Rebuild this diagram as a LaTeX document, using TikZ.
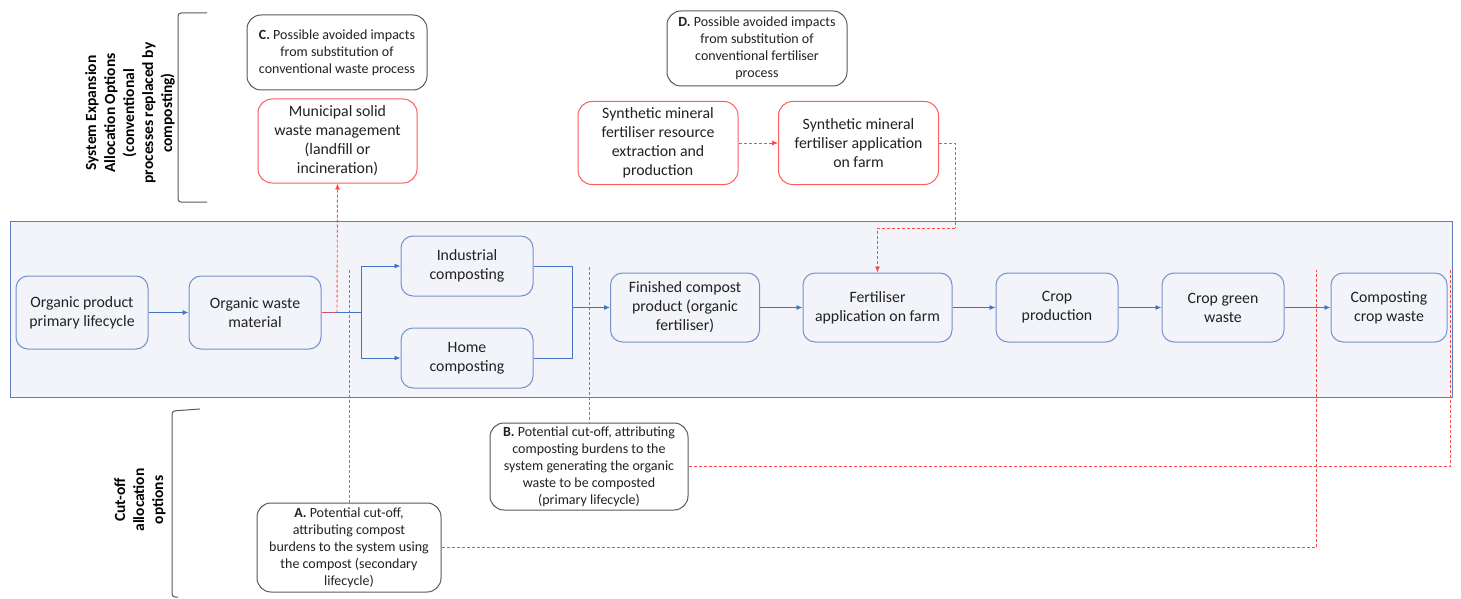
\documentclass[tikz,border=0pt]{standalone}
\usepackage{fontspec}
\setmainfont{Carlito}
\usetikzlibrary{arrows.meta}
\definecolor{flowblue}{HTML}{4472C4}
\definecolor{boxblue}{HTML}{7391CC}
\definecolor{bandfill}{HTML}{F2F4F9}
\definecolor{bandline}{HTML}{5E7DBE}
\definecolor{altred}{HTML}{FF5C5C}
\definecolor{cutred}{HTML}{FF4848}
\definecolor{notegrey}{HTML}{595959}
\definecolor{txt}{HTML}{222222}
\begin{document}
\begin{tikzpicture}[x=1pt,y=-1pt,
  bigtext/.style={font=\fontsize{15.8}{19}\selectfont, text=txt, align=center},
  smalltext/.style={font=\fontsize{14}{17}\selectfont, text=txt, align=center},
  process/.style={bigtext, draw=boxblue, line width=1pt, fill=bandfill, rounded corners=12pt, inner sep=2pt},
  altproc/.style={bigtext, draw=altred, line width=1pt, fill=white, rounded corners=14pt, inner sep=2pt},
  note/.style={smalltext, draw=notegrey, line width=1pt, fill=white, rounded corners=14pt, inner sep=2pt},
  flow/.style={draw=flowblue, line width=0.9pt},
  flowarrow/.style={flow, -{Latex[length=6pt,width=5pt]}},
  cut/.style={draw=cutred, line width=0.9pt, dash pattern=on 3pt off 2pt},
  cutarrow/.style={cut, -{Latex[length=6pt,width=5pt]}},
  bracketline/.style={draw=notegrey, line width=1pt, rounded corners=3pt},
  sidelabel/.style={font=\bfseries\fontsize{15.5}{19}\selectfont, text=black, align=center, rotate=90}
]
\useasboundingbox (0,0) rectangle (1461,599);

% background band holding the composting chain
\node[draw=bandline, line width=0.9pt, fill=bandfill, minimum width=1442pt, minimum height=176pt, inner sep=0pt] (band) at (731,309) {};

% side brackets and their labels
\draw[bracketline] (207,13) -- (178,13) -- (178,202) -- (207,202);
\node[sidelabel] (sysexp) at (130,113) {System Expansion\\Allocation Options\\(conventional\\processes replaced by\\composting)};
\draw[bracketline] (200,409) -- (172,411) -- (172,597) -- (178,597);
\node[sidelabel] (cutoff) at (140,500) {Cut-off\\allocation\\options};

% system expansion notes and conventional processes
\node[note, minimum width=180pt, minimum height=75pt] (noteC) at (337,52.5) {\textbf{C.} Possible avoided impacts\\from substitution of\\conventional waste process};
\node[altproc, minimum width=159pt, minimum height=84pt] (msw) at (337.5,141) {Municipal solid\\waste management\\(landfill or\\incineration)};
\node[note, minimum width=180pt, minimum height=75pt] (noteD) at (757,48.5) {\textbf{D.} Possible avoided impacts\\from substitution of\\conventional fertiliser\\process};
\node[altproc, minimum width=160pt, minimum height=83pt] (res) at (658,143) {Synthetic mineral\\fertiliser resource\\extraction and\\production};
\node[altproc, minimum width=160pt, minimum height=83pt] (app) at (858.5,143) {Synthetic mineral\\fertiliser application\\on farm};

% cut-off notes
\node[note, minimum width=184pt, minimum height=89pt] (noteA) at (349,547.5) {\textbf{A.} Potential cut-off,\\attributing compost\\burdens to the system using\\the compost (secondary\\lifecycle)};
\node[note, minimum width=198pt, minimum height=87pt] (noteB) at (589,466.5) {\textbf{B.} Potential cut-off, attributing\\composting burdens to the\\system generating the organic\\waste to be composted\\(primary lifecycle)};

% cut-off boundary lines
\coordinate (atop) at (349,270);
\coordinate (atopR) at (1316,270);
\coordinate (btop) at (589,267);
\coordinate (btopR) at (1450,270);
\draw[cut] (atop) -- (noteA.north);
\draw[cut] (noteA.east) -| (atopR);
\draw[cut] (btop) -- (noteB.north);
\draw[cut] (noteB.east) -| (btopR);

% composting chain
\node[process, minimum width=132pt, minimum height=73pt] (prim) at (82,312.5) {Organic product\\primary lifecycle};
\node[process, minimum width=132pt, minimum height=73pt] (waste) at (255,312.5) {Organic waste\\material};
\node[process, minimum width=132pt, minimum height=60pt] (ind) at (467,266) {Industrial\\composting};
\node[process, minimum width=132pt, minimum height=60pt] (home) at (467,358) {Home\\composting};
\node[process, minimum width=149pt, minimum height=69pt] (fin) at (685,307.5) {Finished compost\\product (organic\\fertiliser)};
\node[process, minimum width=149pt, minimum height=69pt] (fert) at (877.5,307.5) {Fertiliser\\application on farm};
\node[process, minimum width=122pt, minimum height=69pt] (crop) at (1057,307.5) {Crop\\production};
\node[process, minimum width=122pt, minimum height=69pt] (green) at (1223,307.5) {Crop green\\waste};
\node[process, minimum width=116pt, minimum height=69pt] (comp) at (1389,307.5) {Composting\\crop waste};

\coordinate (split) at (361,312.5);
\coordinate (mswj) at (337,312.5);
\coordinate (merge) at (572,307.5);

\draw[flowarrow] (prim) -- (waste);
\draw[flow] (waste.east) -- (split);
\draw[flowarrow] (split) |- (ind.west);
\draw[flowarrow] (split) |- (home.west);
\draw[flow] (ind.east) -| (merge);
\draw[flow] (home.east) -| (merge);
\draw[flowarrow] (merge) -- (fin.west);
\draw[flowarrow] (fin) -- (fert);
\draw[flowarrow] (fert) -- (crop);
\draw[flowarrow] (crop) -- (green);
\draw[flowarrow] (green) -- (comp);

% substitution links
\draw[cut] (waste.east) -- (mswj);
\draw[cutarrow] (mswj) -- (msw.south);
\draw[cutarrow] (res) -- (app);
\coordinate (fertbend) at (955,228);
\draw[cut] (app.east) -| (fertbend);
\draw[cutarrow] (fertbend) -| (fert.north);
\end{tikzpicture}
\end{document}
